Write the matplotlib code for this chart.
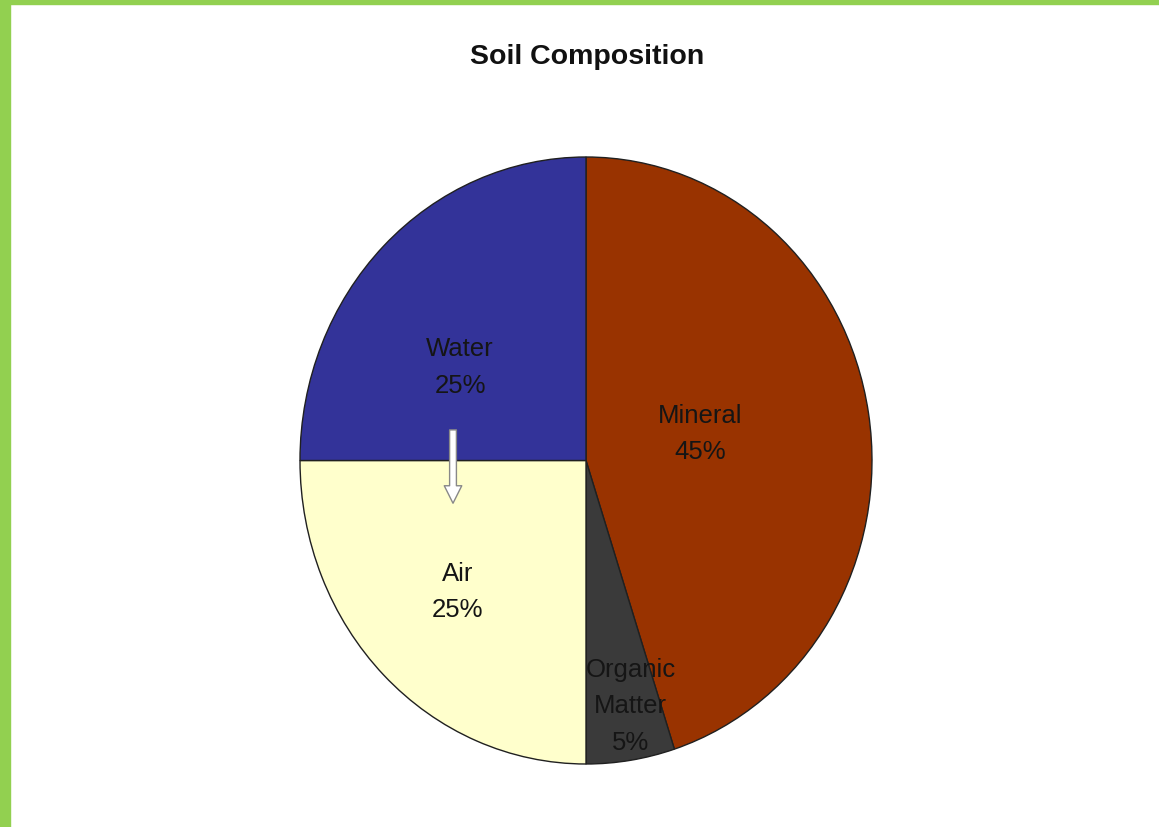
import matplotlib.pyplot as plt
from matplotlib.patches import Rectangle, FancyArrowPatch

# slices, clockwise from the top
labels = ['Mineral', 'Organic\nMatter', 'Air', 'Water']
shares = [45, 5, 25, 25]
colors = ['#993300', '#3a3a3a', '#ffffcc', '#333399']
# where each label sits inside the pie (data coords of a unit pie)
label_pos = [(0.40, 0.09), (0.155, -0.807), (-0.45, -0.43), (-0.44, 0.31)]

W, H = 1159, 828
fig = plt.figure(figsize=(W / 100, H / 100), dpi=100)
fig.patch.set_facecolor('white')

# green frame on the left and top edge
fig.patches.append(Rectangle((0, 0), 10 / W, 1, transform=fig.transFigure,
                             color='#92d050', zorder=0))
fig.patches.append(Rectangle((0, 1 - 5 / H), 1, 5 / H, transform=fig.transFigure,
                             color='#92d050', zorder=0))

# pie is a bit taller than wide in the picture, so keep aspect auto
ax = fig.add_axes([300 / W, 63 / H, 572 / W, 607 / H])
ax.pie(shares, colors=colors, startangle=90, counterclock=False,
       wedgeprops=dict(edgecolor='#202020', linewidth=1.0))
ax.set_aspect('auto')
ax.set_xlim(-1, 1)
ax.set_ylim(-1, 1)
ax.axis('off')

for lab, s, (x, y) in zip(labels, shares, label_pos):
    ax.text(x, y, f'{lab}\n{s}%', ha='center', va='center', fontsize=18.5,
            family='Liberation Sans', color='#151515', linespacing=1.65)

# little white up/down arrow between Water and Air
arr = FancyArrowPatch((-0.465, 0.11), (-0.465, -0.15),
                      arrowstyle='simple,head_width=0.9,head_length=0.9,tail_width=0.35',
                      mutation_scale=14, facecolor='white', edgecolor='#888888',
                      linewidth=1.0, zorder=5)
ax.add_patch(arr)

fig.text(587 / W, 1 - 57 / H, 'Soil Composition', ha='center', va='center',
         fontsize=20.5, fontweight='bold', family='Liberation Sans', color='#111111')

fig.savefig('out.png', dpi=100)
